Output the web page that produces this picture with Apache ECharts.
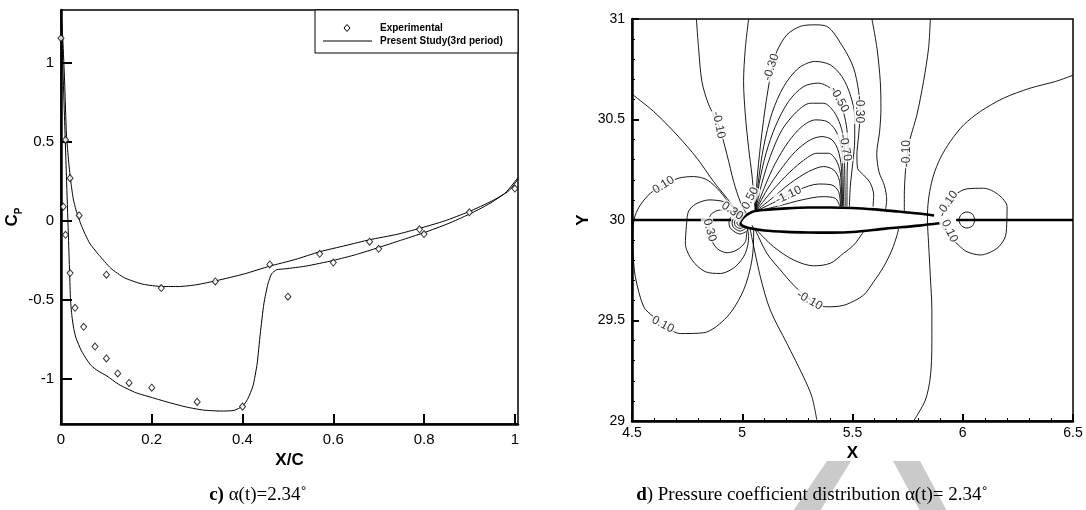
<!DOCTYPE html>
<html>
<head>
<meta charset="utf-8">
<script src="https://cdn.jsdelivr.net/npm/echarts@6/dist/echarts.min.js"></script>
<style>
html, body { margin: 0; background: #fff; }
#main { width: 1086px; height: 510px; }
</style>
</head>
<body>
<div id="main"></div>
<script>
// ---- panel c) : Cp along the chord ----
var expX = [0.0, 0.005, 0.01, 0.01, 0.02, 0.02, 0.031, 0.04, 0.05, 0.075, 0.10, 0.10, 0.125, 0.15, 0.20, 0.221, 0.30, 0.34, 0.40, 0.46, 0.50, 0.57, 0.60, 0.68, 0.70, 0.79, 0.80, 0.90, 1.00];
var expY = [1.157, 0.09, 0.513, -0.088, 0.271, -0.33, -0.55, 0.035, -0.67, -0.795, -0.34, -0.87, -0.965, -1.025, -1.055, -0.425, -1.145, -0.383, -1.175, -0.275, -0.479, -0.208, -0.263, -0.131, -0.176, -0.053, -0.083, 0.055, 0.205];

// present study, pressure side branch
var upperX = [0, 0.004, 0.008, 0.012, 0.017, 0.022, 0.027, 0.033, 0.045, 0.063, 0.082, 0.11, 0.14, 0.18, 0.224, 0.26, 0.30, 0.344, 0.404, 0.46, 0.516, 0.57, 0.628, 0.68, 0.74, 0.79, 0.845, 0.899, 0.95, 0.987, 1.007];
var upperY = [1.33, 1.15, 0.88, 0.55, 0.37, 0.24, 0.14, 0.07, -0.03, -0.14, -0.21, -0.30, -0.36, -0.40, -0.415, -0.415, -0.403, -0.377, -0.335, -0.286, -0.244, -0.195, -0.155, -0.119, -0.085, -0.047, 0.0, 0.059, 0.127, 0.191, 0.265];
// present study, suction side branch (with the shock)
var lowerX = [0, 0.004, 0.008, 0.012, 0.016, 0.019, 0.021, 0.024, 0.028, 0.033, 0.045, 0.055, 0.067, 0.082, 0.101, 0.127, 0.165, 0.202, 0.239, 0.277, 0.314, 0.352, 0.381, 0.4, 0.411, 0.423, 0.432, 0.439, 0.447, 0.456, 0.464, 0.475, 0.494, 0.539, 0.6, 0.651, 0.699, 0.748, 0.8, 0.853, 0.899, 0.942, 0.98, 1.007];
var lowerY = [1.33, 0.98, 0.63, 0.28, -0.07, -0.33, -0.5, -0.6, -0.68, -0.74, -0.822, -0.87, -0.917, -0.95, -0.981, -1.034, -1.087, -1.119, -1.15, -1.178, -1.197, -1.203, -1.199, -1.172, -1.129, -1.044, -0.907, -0.716, -0.525, -0.398, -0.335, -0.309, -0.303, -0.286, -0.25, -0.212, -0.169, -0.123, -0.074, -0.017, 0.042, 0.106, 0.18, 0.275];

var cpTicks = [-1, -0.5, 0, 0.5, 1];
var xcTicks = [0, 0.2, 0.4, 0.6, 0.8, 1];

// ---- panel d) : Cp contour lines, [X, Y] ----
var airfoilUpper = [[4.99, 29.985], [5.0, 30.005], [5.02, 30.025], [5.05, 30.042], [5.1, 30.05], [5.2, 30.058], [5.3, 30.062], [5.4, 30.062], [5.5, 30.06], [5.6, 30.053], [5.7, 30.043], [5.8, 30.032], [5.87, 30.022]];
var airfoilLower = [[4.99, 29.985], [5.0, 29.972], [5.03, 29.96], [5.1, 29.948], [5.2, 29.941], [5.3, 29.938], [5.4, 29.937], [5.5, 29.94], [5.65, 29.957], [5.8, 29.972], [5.9, 29.985]];
var wakeLeft = [[4.5, 30.0], [4.95, 30.0]];
var wakeRight = [[5.97, 30.0], [6.5, 30.0]];

var c00UpperLeft = [[4.5, 30.626], [4.598, 30.54], [4.704, 30.423], [4.795, 30.307], [4.87, 30.191], [4.931, 30.108], [4.976, 30.042], [5.0, 30.02]];
var c01Loop = [[4.976, 30.042], [4.946, 30.075], [4.9, 30.141], [4.84, 30.2], [4.779, 30.216], [4.711, 30.208], [4.643, 30.174], [4.583, 30.133], [4.538, 30.075], [4.515, 30.025], [4.506, 29.98], [4.504, 29.9], [4.506, 29.817], [4.515, 29.718], [4.553, 29.568], [4.598, 29.518], [4.643, 29.477], [4.719, 29.435], [4.825, 29.439], [4.931, 29.518], [5.006, 29.651], [5.044, 29.801], [5.052, 29.95], [5.044, 29.975]];
var c02Upper = [[4.749, 30.0], [4.757, 30.045], [4.79, 30.08], [4.85, 30.1], [4.92, 30.09], [4.975, 30.055], [5.0, 30.02]];
var c02Lower = [[4.749, 30.0], [4.742, 29.884], [4.772, 29.801], [4.832, 29.743], [4.9, 29.734], [4.968, 29.767], [5.014, 29.834], [5.029, 29.917], [5.021, 29.967]];
var c03Upper = [[4.848, 30.0], [4.86, 30.03], [4.9, 30.05], [4.95, 30.045], [4.99, 30.02]];
var c03Lower = [[4.848, 30.0], [4.855, 29.917], [4.885, 29.859], [4.931, 29.837], [4.976, 29.851], [5.014, 29.892], [5.02, 29.94]];
var ring1 = [[4.99, 30.0], [4.978, 29.992], [4.976, 29.985], [4.978, 29.978], [4.99, 29.97], [5.0, 29.975]];
var ring2 = [[4.99, 30.012], [4.968, 29.999], [4.965, 29.985], [4.968, 29.971], [4.99, 29.958], [5.009, 29.967]];
var ring3 = [[4.99, 30.025], [4.959, 30.005], [4.954, 29.985], [4.959, 29.965], [4.99, 29.945], [5.018, 29.959]];
var ring4 = [[5.015, 30.032], [4.99, 30.04], [4.947, 30.012], [4.94, 29.985], [4.947, 29.958], [4.99, 29.93], [5.028, 29.95]];

var cm01Left = [[4.792, 31.0], [4.802, 30.855], [4.817, 30.689], [4.848, 30.573], [4.893, 30.473], [4.931, 30.324], [4.961, 30.191], [4.991, 30.091], [5.018, 30.033]];
var cm02Left = [[5.029, 31.0], [5.014, 30.855], [5.006, 30.689], [5.014, 30.523], [5.029, 30.357], [5.044, 30.224], [5.052, 30.125], [5.059, 30.042]];
var cm03Arch = [[5.059, 30.042], [5.067, 30.199], [5.082, 30.365], [5.097, 30.5], [5.112, 30.615], [5.132, 30.74], [5.157, 30.839], [5.203, 30.922], [5.263, 30.963], [5.324, 30.971], [5.384, 30.963], [5.46, 30.855], [5.505, 30.756], [5.528, 30.639], [5.535, 30.54], [5.528, 30.423], [5.52, 30.324], [5.523, 30.257], [5.55, 30.224], [5.581, 30.183], [5.596, 30.124], [5.593, 30.066]];
var cm04Arch = [[5.059, 30.042], [5.074, 30.199], [5.097, 30.365], [5.135, 30.532], [5.188, 30.664], [5.256, 30.756], [5.331, 30.789], [5.399, 30.772], [5.452, 30.714], [5.49, 30.623], [5.51, 30.515], [5.51, 30.399], [5.501, 30.282], [5.49, 30.166], [5.486, 30.067]];
var cm05Arch = [[5.059, 30.042], [5.077, 30.183], [5.108, 30.332], [5.15, 30.465], [5.21, 30.59], [5.278, 30.664], [5.346, 30.681], [5.399, 30.656], [5.43, 30.606], [5.46, 30.532], [5.475, 30.448], [5.48, 30.349], [5.476, 30.249], [5.475, 30.067]];
var cm06Arch = [[5.059, 30.042], [5.089, 30.183], [5.127, 30.316], [5.18, 30.448], [5.248, 30.54], [5.309, 30.581], [5.369, 30.581], [5.415, 30.54], [5.445, 30.473], [5.46, 30.399], [5.464, 30.282], [5.467, 30.067]];
var cm07Arch = [[5.059, 30.042], [5.102, 30.166], [5.15, 30.282], [5.21, 30.39], [5.271, 30.465], [5.331, 30.498], [5.384, 30.49], [5.422, 30.448], [5.445, 30.382], [5.455, 30.282], [5.46, 30.067]];
var cm08Arch = [[5.059, 30.042], [5.112, 30.15], [5.173, 30.249], [5.241, 30.341], [5.309, 30.399], [5.362, 30.415], [5.407, 30.399], [5.434, 30.349], [5.449, 30.266], [5.455, 30.067]];
var cm09Arch = [[5.059, 30.042], [5.12, 30.125], [5.195, 30.216], [5.271, 30.291], [5.339, 30.332], [5.392, 30.332], [5.425, 30.299], [5.445, 30.233], [5.452, 30.067]];
var cm10Arch = [[5.059, 30.042], [5.135, 30.108], [5.218, 30.183], [5.301, 30.241], [5.369, 30.266], [5.415, 30.249], [5.44, 30.199], [5.449, 30.067]];
var cm11Arch = [[5.059, 30.042], [5.15, 30.091], [5.256, 30.15], [5.346, 30.179], [5.407, 30.174], [5.437, 30.141], [5.446, 30.067]];
var cm12Arch = [[5.059, 30.042], [5.165, 30.07], [5.271, 30.1], [5.362, 30.116], [5.422, 30.108], [5.443, 30.067]];
var cm02Right = [[5.588, 31.0], [5.611, 30.855], [5.626, 30.689], [5.629, 30.556], [5.623, 30.44], [5.61, 30.33], [5.62, 30.24], [5.645, 30.17], [5.655, 30.1], [5.65, 30.052]];
var cm01Right = [[5.853, 31.0], [5.845, 30.855], [5.822, 30.689], [5.792, 30.523], [5.762, 30.407], [5.747, 30.324], [5.739, 30.224], [5.735, 30.125], [5.735, 30.042]];
var c00Right = [[6.5, 30.72], [6.42, 30.689], [6.306, 30.656], [6.185, 30.606], [6.08, 30.54], [6.004, 30.473], [5.943, 30.39], [5.898, 30.307], [5.868, 30.224], [5.85, 30.141], [5.841, 30.058], [5.84, 30.0], [5.845, 29.884], [5.853, 29.718], [5.86, 29.552], [5.86, 29.385], [5.853, 29.219], [5.83, 29.103], [5.777, 29.0]];
var c01TrailLoop = [[5.905, 30.02], [5.921, 30.058], [5.966, 30.125], [6.019, 30.155], [6.095, 30.158], [6.163, 30.125], [6.201, 30.066], [6.2, 30.0], [6.193, 29.917], [6.155, 29.859], [6.08, 29.826], [6.019, 29.842], [5.981, 29.875], [5.928, 29.934], [5.905, 29.975]];
var trailRing = [[6.055, 30.0], [6.045, 30.028], [6.019, 30.04], [5.994, 30.028], [5.983, 30.0], [5.994, 29.972], [6.019, 29.96], [6.045, 29.972], [6.055, 30.0]];
var c00LowerLeft = [[5.035, 29.96], [5.082, 29.718], [5.127, 29.552], [5.203, 29.385], [5.278, 29.219], [5.316, 29.12], [5.339, 29.0]];
var cm01Lower = [[5.059, 29.952], [5.112, 29.834], [5.173, 29.751], [5.233, 29.676], [5.309, 29.601], [5.384, 29.568], [5.43, 29.57], [5.475, 29.581], [5.55, 29.626], [5.596, 29.693], [5.641, 29.767], [5.679, 29.851], [5.702, 29.925], [5.709, 29.958]];
var cm02Lower = [[5.067, 29.948], [5.142, 29.867], [5.233, 29.801], [5.324, 29.772], [5.4, 29.785], [5.459, 29.834], [5.505, 29.875], [5.543, 29.93], [5.55, 29.945]];

// contour labels: text, X, Y, text angle
var contourLabels = [
    ['0.10', 4.643, 30.174, 32],
    ['0.10', 4.64, 29.48, -28],
    ['0.30', 4.852, 29.95, -75],
    ['0.30', 4.955, 30.045, -35],
    ['0.50', 5.036, 30.108, 62],
    ['-0.10', 4.893, 30.473, -78],
    ['-0.30', 5.132, 30.76, 72],
    ['-1.10', 5.21, 30.124, 25],
    ['-0.50', 5.44, 30.6, -62],
    ['-0.30', 5.533, 30.55, -90],
    ['-0.70', 5.467, 30.36, -80],
    ['-0.10', 5.747, 30.33, 90],
    ['-0.10', 5.305, 29.6, -30],
    ['0.10', 5.936, 30.091, 55],
    ['0.10', 5.94, 29.945, -65]
];

var contourLines = [c00UpperLeft, c01Loop, c02Upper, c02Lower, c03Upper, c03Lower, ring1, ring2, ring3, ring4,
    cm01Left, cm02Left, cm03Arch, cm04Arch, cm05Arch, cm06Arch, cm07Arch, cm08Arch, cm09Arch, cm10Arch, cm11Arch, cm12Arch,
    cm02Right, cm01Right, c00Right, c01TrailLoop, trailRing, c00LowerLeft, cm01Lower, cm02Lower];

function zip(xs, ys) {
    return xs.map(function (x, i) { return [x, ys[i]]; });
}

var chart = echarts.init(document.getElementById('main'));
var font = 'Liberation Sans, Arial, sans-serif';
var serif = 'Liberation Serif, Times New Roman, serif';

var series = [];
series.push({
    name: 'Experimental',
    type: 'scatter',
    xAxisIndex: 0, yAxisIndex: 0,
    symbol: 'diamond',
    symbolSize: [6, 7],
    itemStyle: { color: '#fff', borderColor: '#000', borderWidth: 1 },
    data: zip(expX, expY),
    z: 5
});
[zip(upperX, upperY), zip(lowerX, lowerY)].forEach(function (d) {
    series.push({
        name: 'Present Study(3rd period)',
        type: 'line',
        xAxisIndex: 0, yAxisIndex: 0,
        symbol: 'none',
        smooth: 0.2,
        lineStyle: { color: '#000', width: 1 },
        itemStyle: { color: '#000' },
        data: d,
        z: 4
    });
});

// contours
contourLines.forEach(function (d) {
    series.push({
        type: 'line',
        xAxisIndex: 1, yAxisIndex: 1,
        symbol: 'none',
        smooth: 0.3,
        silent: true,
        lineStyle: { color: '#000', width: 0.9 },
        data: d,
        z: 2
    });
});
[airfoilUpper, airfoilLower, wakeLeft, wakeRight].forEach(function (d) {
    series.push({
        type: 'line',
        xAxisIndex: 1, yAxisIndex: 1,
        symbol: 'none',
        smooth: 0.3,
        silent: true,
        lineStyle: { color: '#000', width: 2.6 },
        data: d,
        z: 3
    });
});
series.push({
    type: 'scatter',
    xAxisIndex: 1, yAxisIndex: 1,
    symbolSize: 0.1,
    silent: true,
    itemStyle: { color: 'rgba(0,0,0,0)' },
    label: {
        show: true,
        position: 'inside',
        formatter: '{b}',
        color: '#000',
        fontFamily: font,
        fontSize: 12,
        backgroundColor: '#fff',
        padding: [0, 1]
    },
    data: contourLabels.map(function (l) {
        return { name: l[0], value: [l[1], l[2]], label: { rotate: l[3] } };
    }),
    z: 6
});

var legendFont = 'bold 10px ' + font;

var option = {
    backgroundColor: '#fff',
    animation: false,
    grid: [
        { left: 61, top: 10, width: 457, height: 414, show: true, borderColor: '#000', borderWidth: 1.5 },
        { left: 632, top: 19, width: 441, height: 402, show: true, borderColor: '#000', borderWidth: 1.5 }
    ],
    xAxis: [{
        gridIndex: 0, type: 'value', min: 0, max: 1.007,
        name: 'X/C', nameLocation: 'middle', nameGap: 23,
        nameTextStyle: { fontFamily: font, fontSize: 17, fontWeight: 'bold', color: '#000' },
        axisLine: { onZero: false, lineStyle: { color: '#000', width: 2.5 } },
        axisTick: { inside: true, length: 10, customValues: xcTicks, lineStyle: { width: 2 } },
        axisLabel: { customValues: xcTicks, margin: 8, fontFamily: font, fontSize: 15, color: '#000' },
        splitLine: { show: false }
    }, {
        gridIndex: 1, type: 'value', min: 4.5, max: 6.5, interval: 0.5,
        name: 'X', nameLocation: 'middle', nameGap: 19,
        nameTextStyle: { fontFamily: font, fontSize: 17, fontWeight: 'bold', color: '#000' },
        axisLine: { onZero: false, lineStyle: { color: '#000', width: 2.5 } },
        axisTick: { inside: true, length: 7, lineStyle: { width: 2 } },
        minorTick: { show: true, splitNumber: 5, length: 3, lineStyle: { color: '#000', width: 1 } },
        axisLabel: { margin: 5, fontFamily: font, fontSize: 14, color: '#000' },
        splitLine: { show: false }
    }],
    yAxis: [{
        gridIndex: 0, type: 'value', min: -1.285, max: 1.335,
        name: '{c|C}{p|P}', nameLocation: 'middle', nameRotate: 90, nameGap: 34,
        nameTextStyle: {
            color: '#000',
            rich: {
                c: { fontFamily: font, fontSize: 17, fontWeight: 'bold', lineHeight: 22, verticalAlign: 'bottom' },
                p: { fontFamily: font, fontSize: 10, fontWeight: 'bold', lineHeight: 22, verticalAlign: 'bottom', padding: [0, 0, -3, 0] }
            }
        },
        axisLine: { onZero: false, lineStyle: { color: '#000', width: 2.5 } },
        axisTick: { inside: true, length: 11, customValues: cpTicks, lineStyle: { width: 2 } },
        axisLabel: { customValues: cpTicks, margin: 7, fontFamily: font, fontSize: 15, color: '#000' },
        splitLine: { show: false }
    }, {
        gridIndex: 1, type: 'value', min: 29, max: 31, interval: 0.5,
        name: 'Y', nameLocation: 'middle', nameRotate: 90, nameGap: 40,
        nameTextStyle: { fontFamily: font, fontSize: 17, fontWeight: 'bold', color: '#000' },
        axisLine: { onZero: false, lineStyle: { color: '#000', width: 2.5 } },
        axisTick: { inside: true, length: 7, lineStyle: { width: 2 } },
        minorTick: { show: true, splitNumber: 5, length: 3, lineStyle: { color: '#000', width: 1 } },
        axisLabel: { margin: 7, fontFamily: font, fontSize: 14, color: '#000' },
        splitLine: { show: false }
    }],
    graphic: [
        // watermark in the page behind the caption
        { type: 'polygon', z: 0, shape: { points: [[827, 461], [851, 461], [820, 511], [793, 511]] }, style: { fill: '#cacaca' } },
        { type: 'polygon', z: 0, shape: { points: [[893, 461], [920, 461], [947, 511], [920, 511]] }, style: { fill: '#cacaca' } },
        // legend box of panel c)
        { type: 'rect', z: 10, shape: { x: 315, y: 10, width: 203, height: 43 }, style: { fill: '#fff', stroke: '#000', lineWidth: 1 } },
        { type: 'polygon', z: 11, shape: { points: [[347, 24.5], [350, 28], [347, 31.5], [344, 28]] }, style: { fill: '#fff', stroke: '#000', lineWidth: 1 } },
        { type: 'text', z: 11, x: 380, y: 28, style: { text: 'Experimental', font: legendFont, fill: '#000', verticalAlign: 'middle' } },
        { type: 'line', z: 11, shape: { x1: 323, y1: 41, x2: 372, y2: 41 }, style: { stroke: '#000', lineWidth: 1 } },
        { type: 'text', z: 11, x: 380, y: 41, style: { text: 'Present Study(3rd period)', font: legendFont, fill: '#000', verticalAlign: 'middle' } },
        {
            type: 'text', z: 10, x: 258, y: 495,
            style: {
                text: '{b|c)} α(t)=2.34˚',
                align: 'center', verticalAlign: 'middle',
                fontFamily: serif, fontSize: 19, fill: '#000',
                rich: { b: { fontFamily: serif, fontSize: 19, fontWeight: 'bold' } }
            }
        },
        {
            type: 'text', z: 10, x: 812, y: 495,
            style: {
                text: '{b|d}) Pressure coefficient distribution α(t)= 2.34˚',
                align: 'center', verticalAlign: 'middle',
                fontFamily: serif, fontSize: 19, fill: '#000',
                rich: { b: { fontFamily: serif, fontSize: 19, fontWeight: 'bold' } }
            }
        }
    ],
    series: series
};

chart.setOption(option);
</script>
</body>
</html>
